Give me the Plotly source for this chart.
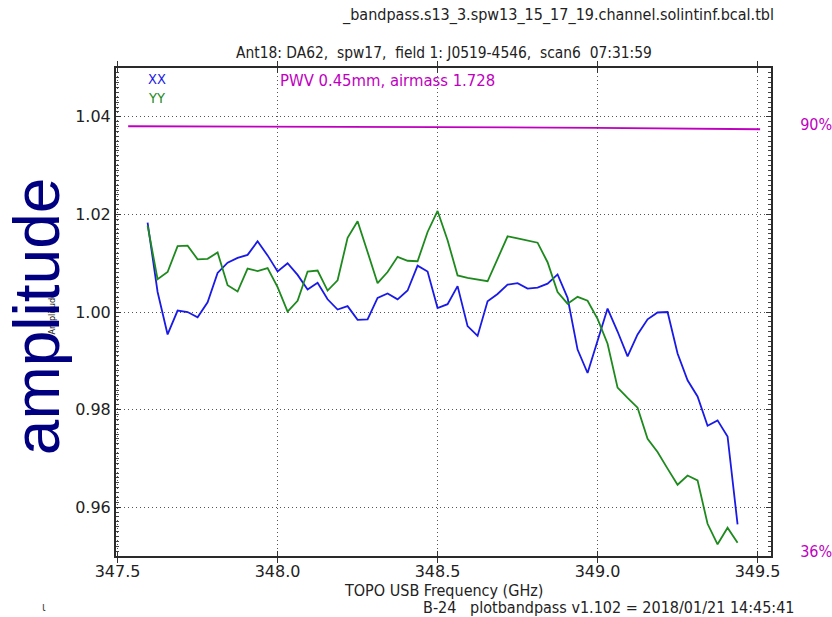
import plotly.graph_objects as go

# Channel frequencies (GHz, TOPO USB)
freq_ghz = [
    347.59375, 347.62500, 347.65625, 347.68750, 347.71875, 347.75000,
    347.78125, 347.81250, 347.84375, 347.87500, 347.90625, 347.93750,
    347.96875, 348.00000, 348.03125, 348.06250, 348.09375, 348.12500,
    348.15625, 348.18750, 348.21875, 348.25000, 348.28125, 348.31250,
    348.34375, 348.37500, 348.40625, 348.43750, 348.46875, 348.50000,
    348.53125, 348.56250, 348.59375, 348.62500, 348.65625, 348.68750,
    348.71875, 348.75000, 348.78125, 348.81250, 348.84375, 348.87500,
    348.90625, 348.93750, 348.96875, 349.00000, 349.03125, 349.06250,
    349.09375, 349.12500, 349.15625, 349.18750, 349.21875, 349.25000,
    349.28125, 349.31250, 349.34375, 349.37500, 349.40625, 349.43750,
]

# Bandpass amplitude, XX polarization
amp_xx = [
    1.0183, 1.0041, 0.9954, 1.0003, 1.0000, 0.9989, 1.0020, 1.0080, 1.0101, 1.0111,
    1.0117, 1.0145, 1.0116, 1.0083, 1.0100, 1.0076, 1.0046, 1.0060, 1.0026, 1.0005,
    1.0012, 0.9984, 0.9985, 1.0029, 1.0038, 1.0026, 1.0044, 1.0095, 1.0083, 1.0008,
    1.0016, 1.0053, 0.9971, 0.9951, 1.0022, 1.0037, 1.0056, 1.0059, 1.0048, 1.0050,
    1.0058, 1.0077, 1.0029, 0.9923, 0.9875, 0.9942, 1.0007, 0.9960, 0.9909, 0.9954,
    0.9985, 0.9999, 1.0000, 0.9915, 0.9860, 0.9827, 0.9767, 0.9778, 0.9745, 0.9565,
]

# Bandpass amplitude, YY polarization
amp_yy = [
    1.0177, 1.0067, 1.0082, 1.0135, 1.0136, 1.0108, 1.0109, 1.0122, 1.0055, 1.0042,
    1.0089, 1.0084, 1.0090, 1.0051, 1.0001, 1.0023, 1.0083, 1.0085, 1.0044, 1.0065,
    1.0152, 1.0186, 1.0123, 1.0059, 1.0082, 1.0113, 1.0105, 1.0104, 1.0164, 1.0207,
    1.0147, 1.0075, 1.0070, 1.0066, 1.0063, 1.0109, 1.0155, 1.0151, 1.0147, 1.0142,
    1.0102, 1.0041, 1.0017, 1.0031, 1.0023, 0.9986, 0.9935, 0.9845, 0.9824, 0.9804,
    0.9740, 0.9713, 0.9679, 0.9646, 0.9665, 0.9655, 0.9566, 0.9524, 0.9558, 0.9527,
]

# Atmospheric transmission (%)
atm_freq_ghz = [347.533, 348.0, 348.5, 349.0, 349.508]
atm_trans_pct = [89.75, 89.72, 89.65, 89.55, 89.37]

# Right-axis transmission labels
trans_ticks = [36, 90]
trans_labels = ["36%", "90%"]

x_ticks = [347.5, 348.0, 348.5, 349.0, 349.5]
y_ticks = [0.96, 0.98, 1.00, 1.02, 1.04]

BLUE = "#1a1ae6"
GREEN = "#1e8a1e"
MAGENTA = "#bf00bf"
NARROW = "DejaVu Sans Condensed, Liberation Sans Narrow, DejaVu Sans, sans-serif"
TICKFONT = dict(family="DejaVu Sans, sans-serif", size=16, color="#222")

fig = go.Figure()
fig.add_trace(go.Scatter(x=freq_ghz, y=amp_xx, mode="lines",
                         line=dict(color=BLUE, width=1.8), name="XX"))
fig.add_trace(go.Scatter(x=freq_ghz, y=amp_yy, mode="lines",
                         line=dict(color=GREEN, width=1.8), name="YY"))
fig.add_trace(go.Scatter(x=atm_freq_ghz, y=atm_trans_pct, mode="lines", yaxis="y2",
                         line=dict(color=MAGENTA, width=1.8), name="transmission"))

axis_common = dict(
    showline=True, linecolor="#2a2a2a", linewidth=2, mirror="allticks",
    ticks="inside", ticklen=5, tickcolor="#333", tickwidth=1,
    showgrid=True, gridcolor="#555", gridwidth=1, griddash="1px,3px",
    zeroline=False, tickfont=TICKFONT, automargin=False,
)

fig.update_layout(
    width=832, height=617,
    margin=dict(l=116, r=61, t=68, b=61),
    paper_bgcolor="white", plot_bgcolor="white",
    showlegend=False,
    xaxis=dict(range=[347.495, 349.542], tickvals=x_ticks, tickformat=".1f", **axis_common),
    yaxis=dict(range=[0.95, 1.05], tickvals=y_ticks, tickformat=".2f",
               minor=dict(ticks="inside", ticklen=3, dtick=0.001, tickcolor="#444", showgrid=False),
               **axis_common),
    yaxis2=dict(overlaying="y", side="right", range=[35.37, 97.12],
                tickvals=trans_ticks, ticktext=trans_labels,
                ticks="outside", ticklen=25, tickcolor="rgba(0,0,0,0)",
                showgrid=False, showline=False, zeroline=False, automargin=False,
                tickfont=dict(family=NARROW, size=16, color=MAGENTA)),
)

def text(x, y, s, size=14, color="#222", family=NARROW, xanchor="center", angle=0):
    fig.add_annotation(x=x, y=y, xref="paper", yref="paper", text=s, showarrow=False,
                       xanchor=xanchor, yanchor="middle", textangle=angle,
                       font=dict(family=family, size=size, color=color))

# Table name and per-panel title
text(1.0076, 1.108, "_bandpass.s13_3.spw13_15_17_19.channel.solintinf.bcal.tbl",
     size=16, xanchor="right")
text(0.5, 1.030, "Ant18: DA62,  spw17,  field 1: J0519-4546,  scan6  07:31:59", size=15.4)

# Polarization key and weather info
text(0.0626, 0.958,
     f"<span style='color:{BLUE}'>XX</span><br><span style='color:{GREEN}'>YY</span>",
     size=14.5)
text(0.2473, 0.9748, "PWV 0.45mm, airmass 1.728", size=16.5, color=MAGENTA, xanchor="left")

# Axis titles
text(0.5, -0.0717, "TOPO USB Frequency (GHz)", size=16)
text(-0.0977, 0.497, "Amplitude", size=9, angle=-90)
text(-0.1206, 0.4915, "amplitude", size=64, color="#000080",
     family="Liberation Sans, Arial, sans-serif", angle=-90)

# Footer
text(1.0397, -0.1065, "B-24   plotbandpass v1.102 = 2018/01/21 14:45:41", size=16, xanchor="right")
text(-0.1099, -0.1044, "ι", size=12, color="#444")

fig.write_html("out.html")
